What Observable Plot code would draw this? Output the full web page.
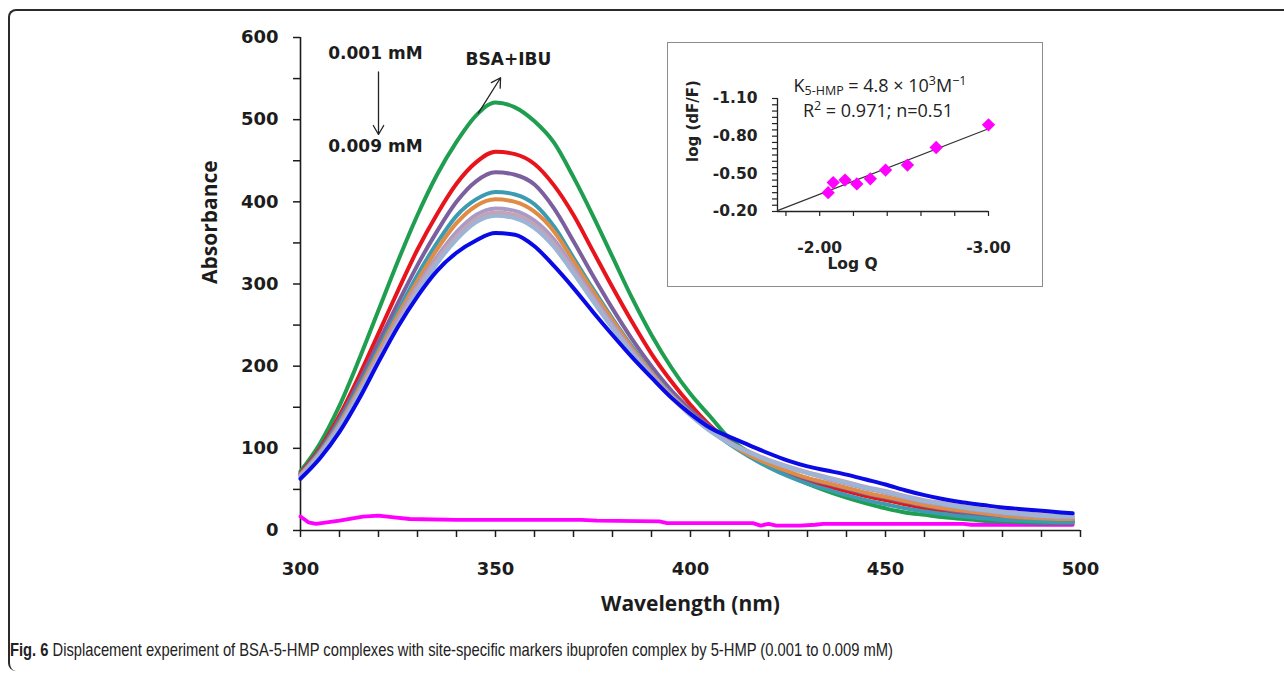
<!DOCTYPE html>
<html><head><meta charset="utf-8">
<script src="https://cdn.jsdelivr.net/npm/d3@7"></script>
<script src="https://cdn.jsdelivr.net/npm/@observablehq/plot@0.6"></script>
<style>
body{margin:0;background:#fff}
#wrap{position:relative;width:1284px;height:674px;overflow:hidden;background:#fff}
#frame{position:absolute;left:8px;top:9px;width:1400px;height:660px;border-top:2px solid #2b2b2b;border-left:2px solid #2b2b2b;border-top-left-radius:8px;border-bottom-left-radius:8px}
#main{position:absolute;left:0;top:0}
#inset{position:absolute;left:667px;top:42px;width:376px;height:245px;background:#fff}
#insetBorder{position:absolute;left:667px;top:42px;width:376px;height:245px;box-sizing:border-box;border:1.5px solid #8c8c8c;pointer-events:none}
.ktxt{position:absolute;transform:translateX(-50%);white-space:nowrap;font-family:'Open Sans',sans-serif;font-size:18px;line-height:22px;color:#222}
.sm{font-size:12.5px}
#caption{position:absolute;left:10px;top:639px;font-family:'Liberation Sans',Arial,sans-serif;font-size:19px;line-height:22px;color:#222;white-space:nowrap;transform-origin:0 50%}
</style></head>
<body>
<div id="wrap">
  <div id="frame"></div>
  <div id="main"></div>
  <div id="inset">
    <div class="ktxt" style="left:213px;top:32px">K<span class="sm" style="position:relative;top:3px">5-HMP</span> = 4.8 × 10<sup class="sm" style="line-height:0">3</sup>M<sup class="sm" style="line-height:0">−1</sup></div>
    <div class="ktxt" style="left:211px;top:57px">R<sup class="sm" style="line-height:0">2</sup> = 0.971; n=0.51</div>
  </div>
  <div id="insetBorder"></div>
  <div id="caption"><b>Fig. 6</b> Displacement experiment of BSA-5-HMP complexes with site-specific markers ibuprofen complex by 5-HMP (0.001 to 0.009 mM)</div>
</div>
<script>
// ---- Main spectra data ----
const wavelengths = [300,305,310,315,320,325,330,335,340,345,350,355,360,365,370,375,380,385,390,395,400,405,410,415,420,425,430,435,440,445,450,455,460,465,470,475,480,485,490,495,498];
const seriesNames = ["BSA+IBU","S1","S2","S3","S4","S5","S6","S7","0.009 mM"];
const seriesColors = ["#1f9e50","#e8141c","#7b5f9e","#3c9bb0","#e08c45","#a89bc7","#c6a2b3","#9cb4d6","#0a0ae6"];
const green  = [72,106,152,208,268,328,384,433,473,505,521, 515,498,472,430,383,333,283,238,199,166, 139,112,95,80,68,57,48,40,33,27, 22,19,16,14,12,11,10,9,9,9];
const red    = [70,100,140,188,240,292,342,385,422,448,461, 458,446,420,384,340,296,254,215,182,153, 128,108,92,79,69,61,54,48,42,37, 32,27,23,20,17,15,13,12,11,11];
const purple = [69,98,136,181,229,277,323,364,400,425,436, 433,421,392,352,310,270,233,200,171,147, 126,108,93,80,71,63,57,51,45,40, 35,30,26,22,19,17,15,14,13,13];
const teal   = [68,96,132,175,221,267,311,350,383,403,412, 409,397,370,332,294,258,224,193,166,143, 123,105,90,77,66,57,50,43,37,32, 27,23,20,17,15,13,12,11,10,10];
const orange = [68,95,130,172,217,262,304,342,374,395,403, 400,388,364,328,291,256,222,192,165,143, 123,106,92,81,72,64,58,52,46,41, 36,31,27,24,21,18,16,15,14,14];
const lav    = [67,94,128,169,213,257,298,333,363,384,392, 389,377,354,320,285,251,219,190,164,142, 123,107,95,85,77,70,63,57,51,46, 40,35,31,27,24,21,19,17,16,16];
const rose   = [66,93,126,167,210,253,294,329,358,379,387, 384,372,349,316,282,248,217,188,163,141, 122,107,96,86,78,71,65,59,53,48, 42,37,33,29,26,23,21,19,18,18];
const steel  = [65,92,125,165,207,250,290,325,354,375,383, 380,368,345,313,279,246,215,187,162,140, 121,106,95,85,77,70,64,58,52,47, 41,36,32,28,25,22,20,18,17,17];
const blue   = [63,88,120,160,205,248,285,316,338,353,362, 360,346,322,295,266,238,211,186,162,142, 125,114,104,94,85,78,73,68,62,56, 49,43,38,34,31,28,26,24,22,21];
const seriesValues = [green,red,purple,teal,orange,lav,rose,steel,blue];

const magentaW = [300,302,304,310,316,320,324,328,340,372,376,392,394,416,418,420,422,428,432,434,470,472,498];
const magentaA = [17,10,8,12,17,18,16,14,13,13,12,11,9,9,6,8,6,6,7,8,8,7,7];

const yTicks = d3.range(0, 601, 50);
const xTicks = d3.range(300, 501, 10);

const annTexts = [
  {x: 319.2, y: 581, t: "0.001 mM"},
  {x: 319.2, y: 467, t: "0.009 mM"},
  {x: 353.3, y: 573, t: "BSA+IBU"}
];
const annArrows = [
  {x1: 320, y1: 558, x2: 320, y2: 482},
  {x1: 345.6, y1: 508, x2: 351.3, y2: 551}
];

// ---- Inset data ----
const insetLogQ = [-2.05,-2.08,-2.15,-2.22,-2.30,-2.39,-2.52,-2.69,-3.00];
const insetLogF = [-0.35,-0.43,-0.45,-0.42,-0.46,-0.53,-0.57,-0.71,-0.89];
const fitSlope = 0.522, fitIntercept = 0.707;
const fitRange = [-1.75, -3.0];
const insetYTicks = d3.range(19).map(i => +(-0.2 - 0.05 * i).toFixed(2));
const insetYLabels = [-1.10, -0.80, -0.50, -0.20];
const insetXTicks = [-1.8,-2.0,-2.2,-2.4,-2.6,-2.8,-3.0];
const insetXLabels = [-2.0, -3.0];

// ---- Build tables ----
const rows = seriesNames.flatMap((s, k) => wavelengths.map((w, i) => ({series: s, w, a: seriesValues[k][i]})));
const magentaRows = magentaW.map((w, i) => ({w, a: magentaA[i]}));
const insetPts = insetLogQ.map((x, i) => ({x, y: insetLogF[i]}));
const fitRows = fitRange.map(x => ({x, y: fitSlope * x + fitIntercept}));

const main = Plot.plot({
  width: 1284, height: 630,
  marginLeft: 300, marginRight: 204, marginTop: 37, marginBottom: 100,
  style: {fontFamily: "'DejaVu Sans', sans-serif", fontWeight: "bold", fontSize: "18px", color: "#1c1c1c", background: "transparent", overflow: "visible"},
  x: {domain: [300, 500]},
  y: {domain: [0, 600]},
  color: {domain: seriesNames, range: seriesColors},
  marks: [
    Plot.axisY(yTicks, {tickSize: 7, tickPadding: 15, strokeWidth: 1.5, tickFormat: d => d % 100 === 0 ? String(d) : "", label: null}),
    Plot.axisX(xTicks, {tickSize: 7, tickPadding: 25, strokeWidth: 1.5, tickFormat: d => d % 50 === 0 ? String(d) : "", label: null}),
    Plot.ruleX([300], {strokeWidth: 1.6}),
    Plot.ruleY([0], {strokeWidth: 1.6}),
    Plot.line(magentaRows, {x: "w", y: "a", stroke: "#ff00ff", strokeWidth: 3.8}),
    Plot.line(rows, {x: "w", y: "a", z: "series", stroke: "series", strokeWidth: 4, curve: "monotone-x"}),
    Plot.text(["Absorbance"], {frameAnchor: "left", dx: -90, rotate: -90, fontFamily: "'Open Sans', sans-serif", fontWeight: 700, fontSize: 21}),
    Plot.text(["Wavelength (nm)"], {frameAnchor: "bottom", dy: 80, fontFamily: "'Open Sans', sans-serif", fontWeight: 700, fontSize: 21}),
    Plot.text(annTexts, {x: "x", y: "y", text: "t", fontSize: 17, fontWeight: "bold"}),
    Plot.arrow(annArrows, {x1: "x1", y1: "y1", x2: "x2", y2: "y2", stroke: "#222", strokeWidth: 1.3, headLength: 12})
  ]
});
document.getElementById("main").appendChild(main);

const isLabel = (arr) => d => arr.some(v => Math.abs(v - d) < 1e-9) ? d.toFixed(2) : "";
const inset = Plot.plot({
  width: 376, height: 245,
  marginLeft: 110, marginRight: 55, marginTop: 56, marginBottom: 76,
  style: {fontFamily: "'DejaVu Sans', sans-serif", fontWeight: "bold", fontSize: "15.5px", color: "#222", background: "transparent", overflow: "visible", position: "absolute", left: "0px", top: "0px"},
  x: {domain: [-1.75, -3.0]},
  y: {domain: [-0.2, -1.1]},
  marks: [
    Plot.axisY(insetYTicks, {tickSize: 5, tickPadding: 15, strokeWidth: 1.2, tickFormat: isLabel(insetYLabels), label: null}),
    Plot.axisX(insetXTicks, {tickSize: 5, tickPadding: 25, strokeWidth: 1.2, tickFormat: isLabel(insetXLabels), label: null}),
    Plot.ruleX([-1.75], {strokeWidth: 1.3}),
    Plot.ruleY([-0.2], {strokeWidth: 1.3}),
    Plot.line(fitRows, {x: "x", y: "y", stroke: "#333", strokeWidth: 1.2}),
    Plot.dot(insetPts, {x: "x", y: "y", symbol: "diamond2", r: 6, fill: "#ff00ff", stroke: "none"}),
    Plot.text(["log (dF/F)"], {frameAnchor: "left", dx: -84, dy: 7, rotate: -90, fontSize: 15}),
    Plot.text(["Log Q"], {frameAnchor: "bottom-left", dx: 75, dy: 57, textAnchor: "middle", fontSize: 15.5})
  ]
});
document.getElementById("inset").prepend(inset);

function fitCaption() {
  const c = document.getElementById("caption");
  c.style.transform = "none";
  const w = c.getBoundingClientRect().width;
  if (w > 0) c.style.transform = `scaleX(${883 / w})`;
}
fitCaption();
if (document.fonts && document.fonts.ready) document.fonts.ready.then(fitCaption);
</script>
</body></html>
